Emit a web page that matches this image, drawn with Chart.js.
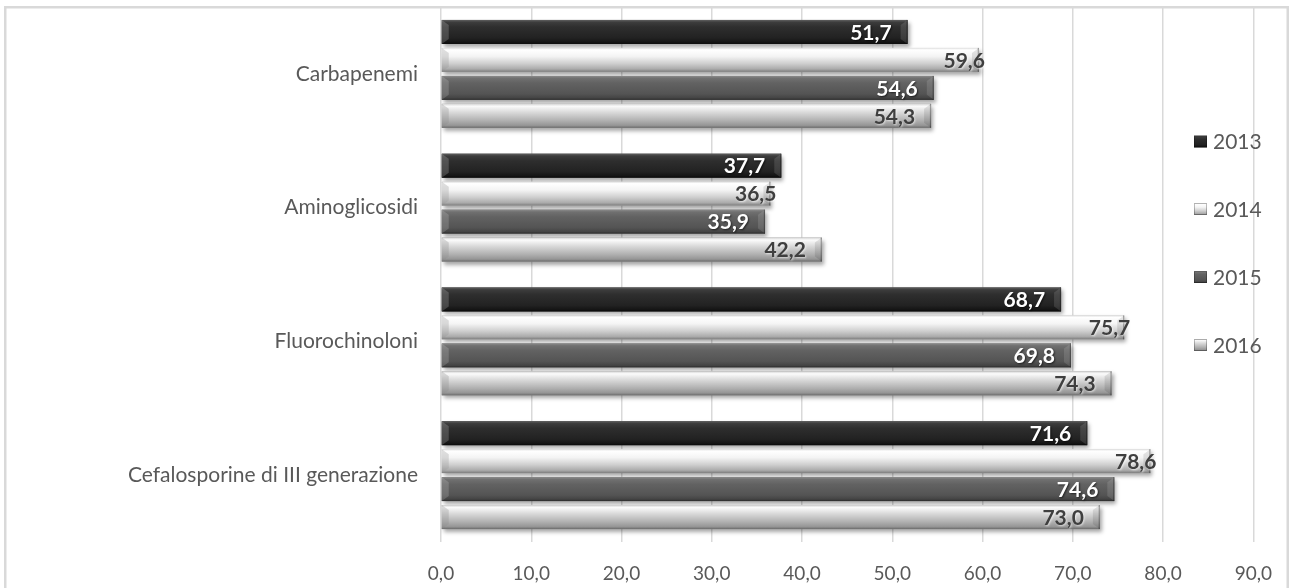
<!DOCTYPE html>
<html><head><meta charset="utf-8">
<script src="https://cdn.jsdelivr.net/npm/chart.js@4.4.0/dist/chart.umd.min.js"></script>
<style>html,body{margin:0;padding:0;background:#fff;overflow:hidden}#wrap{position:relative;width:1292px;height:588px}</style>
</head><body><div id="wrap"><canvas id="c" width="1292" height="588"></canvas></div>
<script>
const categories = ['Carbapenemi', 'Aminoglicosidi', 'Fluorochinoloni', 'Cefalosporine di III generazione'];
const seriesNames = ['2013', '2014', '2015', '2016'];
const values2013 = [51.7, 37.7, 68.7, 71.6];
const values2014 = [59.6, 36.5, 75.7, 78.6];
const values2015 = [54.6, 35.9, 69.8, 74.6];
const values2016 = [54.3, 42.2, 74.3, 73.0];
const xTickValues = [0, 10, 20, 30, 40, 50, 60, 70, 80, 90];

const fmt = v => v.toFixed(1).replace('.', ',');

const styles = [
  { base: '#262626', stops: [[0, '#606060'], [0.1, '#3c3c3c'], [0.3, '#2e2e2e'], [0.75, '#222222'], [0.92, '#151515'], [1, '#0a0a0a']],
    bevL: 'rgba(255,255,255,0.18)', bevR: 'rgba(255,255,255,0.12)', label: '#ffffff', dx: -16, lshadow: 'rgba(0,0,0,0.6)' },
  { base: '#d0d0d0', stops: [[0, '#dcdcdc'], [0.08, '#ffffff'], [0.35, '#f4f4f4'], [0.65, '#cfcfcf'], [0.88, '#ababab'], [1, '#7c7c7c']],
    bevL: 'rgba(150,150,150,0.30)', bevR: 'rgba(0,0,0,0.10)', label: '#3f3f3f', dx: 6, lshadow: 'rgba(255,255,255,0.7)' },
  { base: '#585858', stops: [[0, '#8c8c8c'], [0.1, '#707070'], [0.3, '#626262'], [0.75, '#545454'], [0.92, '#444444'], [1, '#2c2c2c']],
    bevL: 'rgba(255,255,255,0.16)', bevR: 'rgba(255,255,255,0.12)', label: '#ffffff', dx: -16, lshadow: 'rgba(0,0,0,0.6)' },
  { base: '#a8a8a8', stops: [[0, '#d4d4d4'], [0.1, '#fbfbfb'], [0.35, '#dadada'], [0.7, '#b0b0b0'], [0.9, '#959595'], [1, '#6a6a6a']],
    bevL: 'rgba(140,140,140,0.30)', bevR: 'rgba(0,0,0,0.10)', label: '#3f3f3f', dx: -16, lshadow: 'rgba(255,255,255,0.6)' }
];

function paintBar(ctx, st, xs, xe, yt, yb) {
  const g = ctx.createLinearGradient(0, yt, 0, yb);
  st.stops.forEach(s => g.addColorStop(s[0], s[1]));
  ctx.fillStyle = g;
  ctx.fillRect(xs, yt, xe - xs, yb - yt);
  const b = Math.min(7, (xe - xs) / 3);
  const bv = 5;
  ctx.fillStyle = st.bevL;
  ctx.beginPath();
  ctx.moveTo(xs, yt); ctx.lineTo(xs + b, yt + bv); ctx.lineTo(xs + b, yb - bv); ctx.lineTo(xs, yb); ctx.closePath(); ctx.fill();
  ctx.fillStyle = st.bevR;
  ctx.beginPath();
  ctx.moveTo(xe, yt); ctx.lineTo(xe - b, yt + bv); ctx.lineTo(xe - b, yb - bv); ctx.lineTo(xe, yb); ctx.closePath(); ctx.fill();
  ctx.fillStyle = 'rgba(0,0,0,0.3)';
  ctx.fillRect(xe - 1.2, yt, 1.2, yb - yt);
}

const decor = {
  id: 'decor',
  beforeDraw(chart) {
    const ctx = chart.ctx;
    ctx.save();
    ctx.strokeStyle = '#d9d9d9';
    ctx.lineWidth = 2.5;
    ctx.strokeRect(5.25, 7.25, 1282.5, 620);
    ctx.restore();
  },
  beforeDatasetsDraw(chart) {
    const ctx = chart.ctx;
    ctx.save();
    ctx.shadowColor = 'rgba(0,0,0,0.35)';
    ctx.shadowBlur = 4;
    ctx.shadowOffsetX = 2;
    ctx.shadowOffsetY = 3;
  },
  afterDatasetsDraw(chart) {
    const ctx = chart.ctx;
    ctx.restore();
    ctx.save();
    chart.data.datasets.forEach((ds, di) => {
      const meta = chart.getDatasetMeta(di);
      if (meta.hidden) return;
      const st = styles[di];
      meta.data.forEach((el) => {
        const p = el.getProps(['x', 'y', 'base', 'height'], true);
        const xs = Math.min(p.base, p.x), xe = Math.max(p.base, p.x);
        const yt = p.y - p.height / 2, yb = p.y + p.height / 2;
        paintBar(ctx, st, xs, xe, yt, yb);
      });
    });
    ctx.font = 'bold 21px Lato';
    ctx.textAlign = 'right';
    ctx.textBaseline = 'middle';
    chart.data.datasets.forEach((ds, di) => {
      const meta = chart.getDatasetMeta(di);
      const st = styles[di];
      meta.data.forEach((el, i) => {
        const p = el.getProps(['x', 'y'], true);
        ctx.shadowColor = st.lshadow;
        ctx.shadowBlur = 2;
        ctx.shadowOffsetX = 1;
        ctx.shadowOffsetY = 1;
        ctx.fillStyle = st.label;
        ctx.fillText(fmt(ds.data[i]), p.x + st.dx, p.y + 1);
      });
    });
    ctx.restore();
  },
  afterDraw(chart) {
    const ctx = chart.ctx;
    ctx.save();
    const ys = [141.5, 209, 277, 345];
    ctx.font = '21px Lato';
    ctx.textAlign = 'left';
    ctx.textBaseline = 'middle';
    chart.data.datasets.forEach((ds, di) => {
      const y = ys[di];
      const st = styles[di];
      const g = ctx.createLinearGradient(0, y - 6, 0, y + 6);
      st.stops.forEach(s => g.addColorStop(s[0], s[1]));
      ctx.fillStyle = g;
      ctx.fillRect(1194, y - 6, 13, 12);
      ctx.strokeStyle = 'rgba(0,0,0,0.25)';
      ctx.lineWidth = 1;
      ctx.strokeRect(1194.5, y - 5.5, 12, 11);
      ctx.fillStyle = '#595959';
      ctx.fillText(ds.label, 1213, y + 1);
    });
    ctx.restore();
  }
};

new Chart(document.getElementById('c'), {
  type: 'bar',
  data: {
    labels: categories,
    datasets: [
      { label: seriesNames[0], data: values2013, backgroundColor: styles[0].base },
      { label: seriesNames[1], data: values2014, backgroundColor: styles[1].base },
      { label: seriesNames[2], data: values2015, backgroundColor: styles[2].base },
      { label: seriesNames[3], data: values2016, backgroundColor: styles[3].base }
    ]
  },
  options: {
    indexAxis: 'y',
    responsive: false,
    animation: false,
    devicePixelRatio: 1,
    categoryPercentage: 0.837,
    barPercentage: 0.857,
    layout: { padding: { left: 0, right: 38, top: 7, bottom: 0 } },
    plugins: { legend: { display: false }, tooltip: { enabled: false } },
    scales: {
      x: {
        type: 'linear',
        min: 0, max: 90,
        afterBuildTicks(scale) { scale.ticks = xTickValues.map(v => ({ value: v })); },
        afterFit(scale) { scale.height = 46; },
        grid: { color: '#d9d9d9', lineWidth: 1.5, drawTicks: false },
        border: { display: false },
        ticks: { padding: 20, color: '#595959', font: { family: 'Lato', size: 19 }, callback: v => fmt(v) }
      },
      y: {
        afterFit(scale) { scale.width = 441; scale.paddingTop = 0; scale.paddingBottom = 0; },
        grid: { display: false, drawTicks: false },
        border: { display: false },
        ticks: { padding: 23, color: '#595959', font: { family: 'Lato', size: 21 } }
      }
    }
  },
  plugins: [decor]
});
</script>
</body></html>
